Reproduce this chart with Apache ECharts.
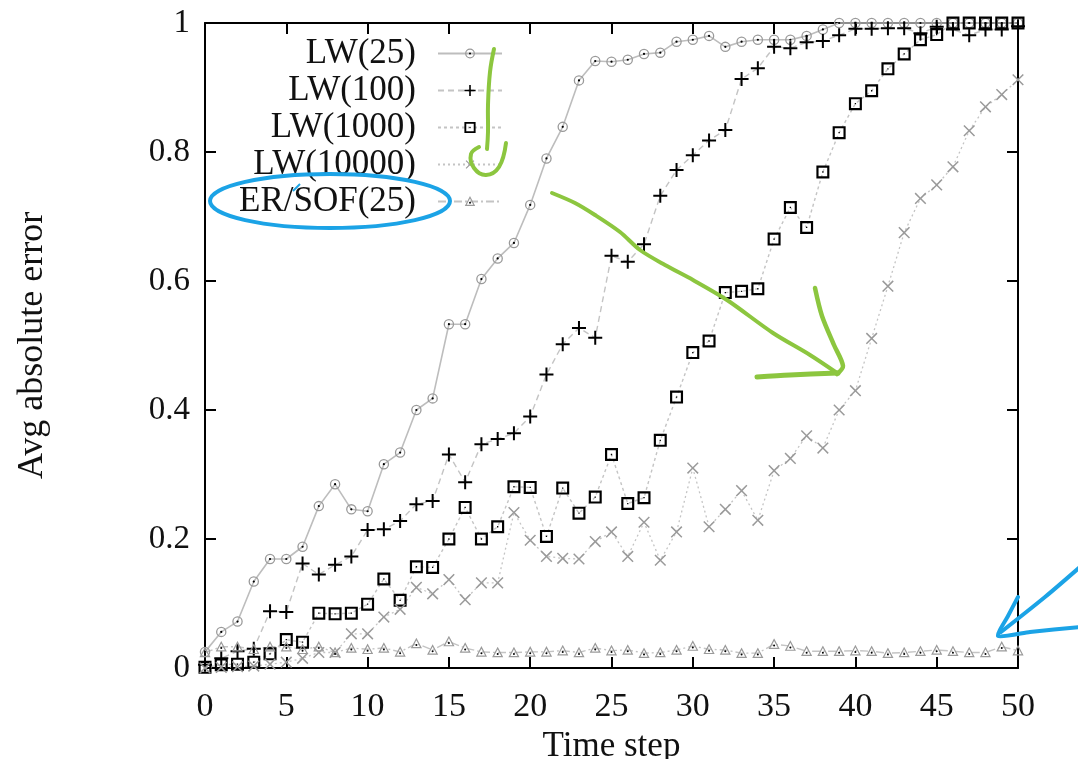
<!DOCTYPE html>
<html>
<head>
<meta charset="utf-8">
<script src="https://cdn.jsdelivr.net/npm/echarts@6/dist/echarts.min.js"></script>
<style>
  html, body { margin: 0; padding: 0; background: #fff; }
  #chart { width: 1078px; height: 759px; }
</style>
</head>
<body>
<div id="chart"></div>
<script>
  // time steps
  const steps = [0, 1, 2, 3, 4, 5, 6, 7, 8, 9, 10, 11, 12, 13, 14, 15, 16, 17, 18, 19, 20,
    21, 22, 23, 24, 25, 26, 27, 28, 29, 30, 31, 32, 33, 34, 35, 36, 37, 38, 39, 40,
    41, 42, 43, 44, 45, 46, 47, 48, 49, 50]

  const lw25 = [0.025, 0.056, 0.072, 0.134, 0.169, 0.169, 0.188, 0.251, 0.285, 0.246, 0.243,
    0.316, 0.334, 0.400, 0.418, 0.533, 0.533, 0.603, 0.635, 0.659, 0.718,
    0.790, 0.839, 0.911, 0.941, 0.940, 0.943, 0.952, 0.954, 0.971, 0.974,
    0.980, 0.963, 0.971, 0.974, 0.974, 0.974, 0.980, 0.990, 1.0, 1.0,
    1.0, 1.0, 1.0, 1.0, 1.0, 1.0, 1.0, 1.0, 1.0, 1.0]

  const lw100 = [0.005, 0.015, 0.026, 0.030, 0.088, 0.087, 0.162, 0.145, 0.160, 0.173, 0.214,
    0.215, 0.228, 0.254, 0.259, 0.331, 0.288, 0.347, 0.355, 0.364, 0.390,
    0.455, 0.502, 0.527, 0.512, 0.639, 0.630, 0.657, 0.732, 0.772, 0.795,
    0.818, 0.834, 0.913, 0.930, 0.963, 0.961, 0.970, 0.972, 0.981, 0.991,
    0.991, 0.992, 0.992, 0.984, 0.994, 0.990, 0.981, 0.990, 0.990, 0.995]

  const lw1000 = [0.001, 0.005, 0.006, 0.009, 0.022, 0.044, 0.040, 0.085, 0.084, 0.085, 0.099,
    0.138, 0.105, 0.157, 0.156, 0.200, 0.249, 0.200, 0.219, 0.281, 0.280,
    0.204, 0.279, 0.240, 0.265, 0.331, 0.255, 0.264, 0.353, 0.420, 0.489,
    0.507, 0.582, 0.584, 0.588, 0.665, 0.714, 0.683, 0.769, 0.830, 0.875,
    0.895, 0.929, 0.952, 0.974, 0.982, 1.0, 1.0, 1.0, 1.0, 1.0]

  const lw10000 = [0.0, 0.001, 0.002, 0.003, 0.006, 0.009, 0.015, 0.024, 0.024, 0.053, 0.053,
    0.079, 0.091, 0.125, 0.115, 0.137, 0.106, 0.132, 0.132, 0.241, 0.198,
    0.173, 0.170, 0.169, 0.196, 0.211, 0.173, 0.226, 0.167, 0.211, 0.310,
    0.219, 0.246, 0.275, 0.229, 0.306, 0.325, 0.360, 0.341, 0.400, 0.430,
    0.511, 0.592, 0.675, 0.728, 0.749, 0.777, 0.833, 0.870, 0.889, 0.912]

  const ersof25 = [0.024, 0.033, 0.033, 0.029, 0.033, 0.033, 0.029, 0.033, 0.024, 0.031, 0.029,
    0.031, 0.025, 0.038, 0.028, 0.041, 0.031, 0.025, 0.024, 0.024, 0.025,
    0.025, 0.027, 0.024, 0.031, 0.027, 0.028, 0.023, 0.024, 0.028, 0.034,
    0.029, 0.028, 0.023, 0.023, 0.037, 0.034, 0.026, 0.026, 0.026, 0.027,
    0.026, 0.023, 0.024, 0.026, 0.028, 0.026, 0.024, 0.024, 0.033, 0.027]

  const seriesNames = ['LW(25)', 'LW(100)', 'LW(1000)', 'LW(10000)', 'ER/SOF(25)']
  const xTicks = { min: 0, max: 50, interval: 5 }
  const yTicks = { min: 0, max: 1, interval: 0.2 }

  const font = 'Liberation Serif'
  const pair = arr => steps.map((s, i) => [s, arr[i]])
  const svgSym = svg => 'image://data:image/svg+xml;charset=utf-8,' + encodeURIComponent(svg)

  // two-colour markers (grey outline + black dot)
  const circleDot = svgSym('<svg xmlns="http://www.w3.org/2000/svg" width="12" height="12" viewBox="0 0 12 12">' +
    '<circle cx="6" cy="6" r="4.6" fill="none" stroke="#9a9a9a" stroke-width="1.3"/>' +
    '<circle cx="6" cy="6" r="1.1" fill="#000"/></svg>')
  const triDot = svgSym('<svg xmlns="http://www.w3.org/2000/svg" width="12" height="12" viewBox="0 0 12 12">' +
    '<path d="M6,1.5 L10.6,10.2 L1.4,10.2 Z" fill="none" stroke="#9a9a9a" stroke-width="1.2"/>' +
    '<circle cx="6" cy="7.4" r="1" fill="#000"/></svg>')
  const plusPath = 'path://M6,0H8V6H14V8H8V14H6V8H0V6H6Z'
  const thinPlus = 'path://M6.3,0H7.7V6.3H14V7.7H7.7V14H6.3V7.7H0V6.3H6.3Z'
  const squareDot = 'path://M0,0H12V12H0Z M2,2V10H10V2Z M5.4,5.4H6.6V6.6H5.4Z'

  const green = '#8cc63f'
  const blue = '#1ba3e6'

  const chart = echarts.init(document.getElementById('chart'))

  const axisBase = {
    type: 'value',
    axisLine: { show: true, onZero: false, lineStyle: { color: '#000', width: 2 } },
    axisTick: { show: true, inside: true, length: 11, lineStyle: { color: '#000', width: 2 } },
    splitLine: { show: false },
  }

  const option = {
    animation: false,
    backgroundColor: '#fff',
    textStyle: { fontFamily: font },
    grid: { left: 205, right: 60, top: 23, bottom: 91, containLabel: false, outerBoundsMode: 'none' },
    legend: {
      data: seriesNames,
      orient: 'vertical',
      align: 'right',
      right: 575,
      top: 36,
      padding: 0,
      itemGap: 2,
      itemWidth: 64,
      itemHeight: 14,
      textStyle: { fontFamily: font, fontSize: 35, color: '#111', lineHeight: 34, padding: [0, 17, 0, 0] },
    },
    xAxis: [
      {
        ...axisBase,
        ...xTicks,
        position: 'bottom',
        name: 'Time step',
        nameLocation: 'middle',
        nameGap: 60,
        nameTextStyle: { fontFamily: font, fontSize: 35, color: '#111' },
        axisLabel: { fontFamily: font, fontSize: 34, color: '#111', margin: 22 },
      },
      {
        ...axisBase,
        ...xTicks,
        position: 'top',
        axisLabel: { show: false },
      },
    ],
    yAxis: [
      {
        ...axisBase,
        ...yTicks,
        position: 'left',
        name: 'Avg absolute error',
        nameLocation: 'middle',
        nameGap: 154,
        nameTextStyle: { fontFamily: font, fontSize: 36, color: '#111' },
        axisLabel: { fontFamily: font, fontSize: 33, color: '#111', margin: 15 },
      },
      {
        ...axisBase,
        ...yTicks,
        position: 'right',
        axisLabel: { show: false },
      },
    ],
    series: [
      {
        name: 'LW(25)',
        type: 'line',
        clip: false,
        symbol: circleDot,
        symbolSize: 12,
        lineStyle: { color: '#bdbdbd', width: 1.6, type: 'solid' },
        itemStyle: { color: '#9a9a9a' },
        data: pair(lw25),
      },
      {
        name: 'LW(100)',
        type: 'line',
        clip: false,
        symbol: plusPath,
        symbolSize: 14,
        lineStyle: { color: '#c4c4c4', width: 1.4, type: [6, 4] },
        itemStyle: { color: '#000', borderWidth: 0 },
        data: pair(lw100),
      },
      {
        name: 'LW(1000)',
        type: 'line',
        clip: false,
        symbol: squareDot,
        symbolSize: 13,
        lineStyle: { color: '#c4c4c4', width: 1.4, type: [3, 3] },
        itemStyle: { color: '#000', borderWidth: 0 },
        data: pair(lw1000),
      },
      {
        name: 'LW(10000)',
        type: 'line',
        clip: false,
        symbol: thinPlus,
        symbolRotate: 45,
        symbolSize: 15,
        lineStyle: { color: '#c4c4c4', width: 1.3, type: [2, 3] },
        itemStyle: { color: '#9a9a9a', borderWidth: 0 },
        data: pair(lw10000),
      },
      {
        name: 'ER/SOF(25)',
        type: 'line',
        clip: false,
        symbol: triDot,
        symbolSize: 12,
        lineStyle: { color: '#c4c4c4', width: 1.4, type: [8, 3, 2, 3] },
        itemStyle: { color: '#9a9a9a' },
        data: pair(ersof25),
      },
    ],
    // hand-drawn annotations on top of the figure
    graphic: [
      {
        type: 'polyline', z: 100, silent: true,
        shape: { points: [[494, 49], [490, 72], [488, 105], [488, 132], [487, 149]], smooth: 0.4 },
        style: { stroke: green, lineWidth: 4, fill: null, lineCap: 'round' },
      },
      {
        type: 'polyline', z: 100, silent: true,
        shape: { points: [[479, 147], [471, 154], [474, 168], [486, 175], [499, 167], [506, 143]], smooth: 0.4 },
        style: { stroke: green, lineWidth: 4, fill: null, lineCap: 'round' },
      },
      {
        type: 'polyline', z: 100, silent: true,
        shape: {
          points: [[552, 193], [575, 203], [595, 215], [620, 232], [640, 250], [665, 265],
            [693, 280], [727, 300], [773, 333], [810, 355], [837, 373]],
          smooth: 0.3,
        },
        style: { stroke: green, lineWidth: 4, fill: null, lineCap: 'round' },
      },
      {
        type: 'polyline', z: 100, silent: true,
        shape: { points: [[815, 288], [822, 316], [834, 345], [843, 366], [837, 374]], smooth: 0.3 },
        style: { stroke: green, lineWidth: 4.5, fill: null, lineCap: 'round' },
      },
      {
        type: 'polyline', z: 100, silent: true,
        shape: { points: [[757, 377], [790, 375], [838, 373]], smooth: 0.3 },
        style: { stroke: green, lineWidth: 5, fill: null, lineCap: 'round' },
      },
      {
        type: 'ellipse', z: 100, silent: true,
        shape: { cx: 330, cy: 201, rx: 120, ry: 27 },
        style: { stroke: blue, lineWidth: 4, fill: null },
      },
      {
        type: 'polyline', z: 100, silent: true,
        shape: { points: [[300, 184], [293, 191]] },
        style: { stroke: blue, lineWidth: 2, fill: null },
      },
      {
        type: 'polyline', z: 100, silent: true,
        shape: { points: [[1080, 567], [1045, 597], [1001, 632]], smooth: 0.3 },
        style: { stroke: blue, lineWidth: 4, fill: null, lineCap: 'round' },
      },
      {
        type: 'polyline', z: 100, silent: true,
        shape: { points: [[1018, 597], [1008, 616], [998, 636], [1030, 632], [1080, 627]], smooth: 0.2 },
        style: { stroke: blue, lineWidth: 4, fill: null, lineCap: 'round', lineJoin: 'round' },
      },
    ],
  }

  option && chart.setOption(option)
</script>
</body>
</html>
